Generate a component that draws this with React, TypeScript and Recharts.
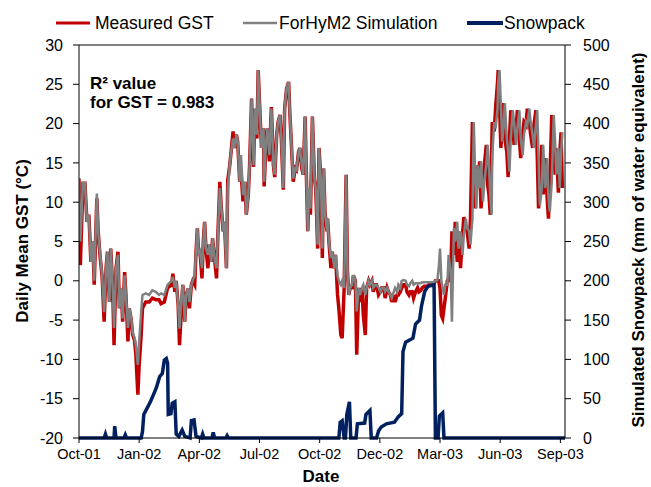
import { LineChart, Line, XAxis, YAxis, ReferenceLine } from "recharts";

// day index counted from 1 Oct 2001 (Excel date axis, 91-day major unit)
const gstDay = [
  0, 2, 6, 9, 12, 15, 18, 21, 23, 27, 29, 32, 35, 38, 41, 43, 46, 48, 51, 53, 56, 59, 61, 64, 66, 69, 71, 74, 76, 79,
  81, 84, 86, 89, 91, 94, 96, 101, 106, 111, 116, 121, 124, 129, 134, 140, 142, 145, 147, 150, 152, 155, 157, 160,
  162, 165, 167, 170, 172, 175, 177, 179, 181, 183, 186, 188, 190, 192, 195, 197, 200, 202, 205, 208, 210, 213, 215,
  218, 220, 223, 225, 228, 230, 233, 235, 238, 240, 243, 245, 248, 251, 253, 256, 258, 261, 264, 266, 269, 271, 274,
  276, 279, 280, 283, 285, 288, 290, 291, 294, 296, 299, 301, 304, 306, 309, 311, 314, 317, 319, 322, 324, 327, 329,
  332, 334, 337, 339, 342, 344, 346, 348, 350, 353, 356, 358, 361, 363, 366, 368, 370, 372, 375, 376, 378, 381, 383,
  386, 388, 391, 393, 396, 398, 401, 404, 406, 408, 410, 413, 415, 418, 420, 423, 425, 428, 430, 433, 435, 438, 440,
  443, 445, 448, 450, 453, 456, 458, 461, 463, 466, 468, 471, 473, 476, 478, 481, 483, 486, 488, 491, 494, 496, 499,
  501, 504, 506, 509, 512, 514, 517, 519, 522, 524, 527, 529, 532, 534, 537, 539, 542, 544, 546, 548, 550, 552, 554,
  557, 559, 562, 564, 567, 569, 572, 574, 577, 580, 582, 585, 587, 590, 592, 595, 597, 599, 601, 603, 606, 608, 611,
  613, 616, 618, 620, 622, 624, 625, 628, 630, 633, 634, 636, 638, 640, 642, 644, 647, 649, 651, 653, 656, 658, 661,
  663, 666, 668, 671, 673, 676, 678, 681, 683, 686, 688, 691, 693, 695, 697, 700, 702, 705, 708, 710, 712, 715, 718,
  720, 722, 725, 727, 729, 731,
];

const measuredGst = [
  13.0, 2.0, 12.4, 12.4, 7.5, 8.4, 2.4, 5.0, -0.5, 10.5, 6.3, 3.0, 0.5, -5.2, 1.6, 3.7, -2.7, 4.1, -1.0, -8.2, 1.6, 3.7,
  -3.5, -1.0, -5.2, 1.1, -1.8, -7.7, -3.5, -5.0, -6.8, -7.6, -9.4, -14.5, -10.7, -6.9, -3.5, -2.7, -2.7, -2.2, -2.4,
  -2.4, -2.9, -2.7, -0.9, -0.5, 0.9, -1.4, 0.0, -3.1, -8.2, -3.5, -0.5, -5.2, -1.8, -1.0, -3.5, -0.5, 0.0, -0.5, 3.7,
  6.7, 3.3, 3.7, 0.3, 5.0, 7.5, 4.1, 1.6, 4.6, 2.4, 5.4, 2.8, 0.3, 5.8, 12.6, 9.6, 6.3, 7.5, 1.6, 12.8, 14.7, 16.4,
  19.0, 16.9, 18.6, 17.7, 12.6, 14.0, 10.1, 12.6, 8.4, 10.9, 14.7, 23.2, 14.5, 21.9, 18.1, 26.8, 20.7, 16.9, 19.4,
  12.0, 17.7, 19.4, 15.2, 20.2, 22.1, 14.7, 13.2, 18.6, 20.2, 21.1, 18.1, 11.6, 21.9, 24.5, 25.3, 21.1, 16.0, 12.6,
  14.3, 14.1, 16.4, 16.9, 14.3, 13.5, 20.9, 13.0, 6.3, 11.8, 8.4, 20.9, 13.0, 11.8, 4.1, 16.9, 12.6, 2.9, 14.3, 8.8,
  6.3, 7.9, 5.0, 1.6, 3.7, 1.6, 3.3, -1.8, -3.5, -6.9, -7.3, -0.9, 13.5, 1.2, -1.8, -0.9, -0.9, 0.7, 0.0, -9.4, -0.9,
  -2.7, -0.9, -4.4, -6.9, -0.9, 0.0, -0.5, 0.0, -1.4, -0.5, -0.5, -1.8, -1.4, -0.9, -0.9, -2.2, -0.9, -1.4, -1.8,
  -2.7, -1.8, -2.7, -1.8, -1.8, -1.4, -0.9, -0.5, -0.5, -1.4, -1.8, -1.4, -1.4, -2.2, -1.4, -0.9, -1.4, -1.2, -0.9,
  -0.7, -0.7, -0.7, -0.5, -0.5, -0.4, -0.3, 0.0, 0.0, 0.0, -0.9, -4.4, -4.8, -3.5, -2.2, 0.0, 0.3, 0.0, 6.3, 3.3, 7.5,
  2.4, 6.3, 1.6, 5.8, 8.1, 6.7, 6.3, 4.1, 7.9, 20.2, 13.9, 9.2, 14.7, 11.8, 15.2, 9.2, 12.6, 14.7, 17.3, 12.2, 10.9,
  8.4, 16.0, 20.2, 19.0, 21.9, 25.3, 26.8, 22.4, 16.9, 19.4, 22.6, 18.1, 16.4, 13.2, 18.1, 21.7, 20.2, 17.3, 19.4,
  21.7, 18.1, 15.6, 18.6, 20.2, 19.8, 21.9, 20.2, 18.6, 16.9, 19.8, 21.7, 16.0, 9.2, 11.8, 17.3, 11.0, 15.6, 10.5,
  7.9, 12.6, 21.1, 17.7, 13.5, 16.9, 11.2, 16.0, 18.9, 11.8,
];

const simulatedGst = [
  13.0, 5.0, 12.4, 12.4, 7.5, 8.4, 2.4, 5.0, 0.0, 11.1, 6.3, 3.3, 0.7, -4.0, 1.6, 3.7, -2.7, 4.1, -1.0, -6.0, 1.6, 3.3,
  -3.5, -1.0, -4.8, 0.7, -1.8, -6.0, -3.5, -4.8, -6.5, -7.3, -8.2, -10.7, -7.7, -4.0, -1.8, -1.6, -1.8, -1.2, -1.4,
  -1.8, -1.6, -1.8, -0.5, 0.0, 0.5, -0.9, 0.0, -3.1, -6.1, -1.8, -0.5, -5.2, -1.8, -1.0, -2.7, -0.5, 0.0, 0.7, 3.7,
  6.7, 3.3, 3.7, 1.6, 5.0, 7.5, 4.1, 3.3, 4.6, 2.4, 5.4, 2.8, 1.6, 5.8, 11.8, 9.6, 6.3, 7.5, 1.6, 11.8, 14.7, 16.4,
  18.1, 16.9, 18.6, 17.7, 12.6, 16.0, 10.9, 12.6, 8.4, 10.9, 14.7, 23.2, 14.7, 21.9, 18.6, 26.8, 20.7, 16.9, 19.4,
  12.6, 17.7, 19.4, 16.0, 20.2, 21.9, 14.7, 13.5, 18.6, 20.2, 21.1, 18.1, 11.8, 21.9, 24.5, 25.3, 21.1, 16.0, 13.0,
  14.3, 14.1, 16.4, 16.9, 14.7, 13.5, 20.9, 13.0, 6.3, 11.8, 9.2, 20.9, 13.0, 11.8, 4.6, 16.9, 12.6, 4.1, 14.3, 8.8,
  6.3, 7.9, 5.0, 2.9, 3.7, 1.6, 3.3, 0.7, 0.0, -0.5, 0.0, -0.9, 13.5, 1.2, -1.8, -0.9, -0.5, 0.7, 0.0, -3.9, -0.9,
  -1.8, -0.9, -0.5, -1.8, -0.9, 0.0, -0.5, 0.0, -0.9, -0.5, -0.5, -0.9, -1.4, -0.9, -0.9, -1.4, -0.9, -1.4, -1.8,
  -2.2, -1.4, -0.9, -1.4, -0.5, -0.9, 0.0, 0.1, 0.0, -0.5, -0.7, -0.3, 0.0, -0.5, -0.3, -0.3, -0.3, -0.3, -0.2, -0.2,
  -0.2, -0.2, -0.2, -0.2, -0.2, -0.2, 0.0, 0.1, 1.6, 4.1, 0.0, -0.9, -1.8, -0.5, -0.5, 3.3, 1.2, -5.2, 6.7, 5.0, 7.5,
  4.1, 6.3, 3.3, 5.8, 7.9, 6.7, 6.3, 4.6, 7.9, 20.2, 13.9, 9.2, 14.7, 11.8, 15.2, 10.1, 12.6, 14.7, 17.3, 14.7, 10.9,
  8.4, 16.0, 20.2, 19.4, 21.9, 25.3, 26.8, 22.4, 17.7, 19.4, 22.6, 18.1, 16.4, 13.9, 18.1, 21.7, 20.2, 17.3, 19.4,
  21.7, 18.1, 16.0, 18.6, 20.2, 19.8, 21.9, 20.2, 18.6, 16.9, 19.8, 21.7, 16.0, 9.6, 11.8, 17.3, 11.8, 15.6, 10.5,
  8.8, 12.6, 21.1, 17.7, 13.5, 16.9, 11.8, 16.0, 18.9, 11.8,
];

const snowDay = [
  0, 38, 40, 42, 53, 54, 56, 68, 70, 72, 94, 96, 98, 103, 108, 112, 117, 122, 126, 129, 132, 134, 135, 139, 141, 145,
  147, 151, 156, 160, 168, 170, 174, 177, 185, 187, 189, 201, 203, 205, 222, 224, 226, 393, 395, 398, 401, 403, 405,
  409, 411, 419, 421, 432, 434, 440, 442, 450, 453, 457, 465, 477, 483, 488, 490, 494, 505, 509, 515, 518, 523, 528,
  537, 539, 543, 545, 550, 552, 735,
];

const snowpack = [
  0, 0, 5, 0, 0, 15, 0, 0, 4, 0, 0, 8, 30, 38, 46, 54, 64, 78, 82, 99, 101, 95, 30, 31, 44, 46, 5, 2, 10, 2, 0, 22, 23,
  2, 0, 5, 0, 0, 7, 0, 0, 3, 0, 0, 20, 22, 0, 0, 30, 46, 0, 0, 18, 19, 30, 35, 0, 0, 9, 14, 18, 20, 27, 31, 110, 122,
  127, 145, 150, 168, 187, 193, 195, 0, 0, 28, 32, 0, 0,
];

const dateTicks = [0, 91, 182, 273, 364, 455, 546, 637, 728];
const dateLabels = ["Oct-01", "Jan-02", "Apr-02", "Jul-02", "Oct-02", "Dec-02", "Mar-03", "Jun-03", "Sep-03"];
const gstTicks = [-20, -15, -10, -5, 0, 5, 10, 15, 20, 25, 30];
const snowTicks = [0, 50, 100, 150, 200, 250, 300, 350, 400, 450, 500];

const measuredData = gstDay.map((day, i) => ({ day, value: measuredGst[i] }));
const simulatedData = gstDay.map((day, i) => ({ day, value: simulatedGst[i] }));
const snowData = snowDay.map((day, i) => ({ day, value: snowpack[i] }));

const FONT = "'Liberation Sans', Arial, sans-serif";
const RED = "#C00000";
const GREY = "#808080";
const NAVY = "#002060";

export default function App() {
  return (
    <div style={{ position: "relative", width: 651, height: 487, fontFamily: FONT }}>
      <style>{"body{margin:0}"}</style>
      <LineChart width={651} height={487} margin={{ top: 45, right: 0, bottom: 0, left: 0 }}>
        <XAxis
          type="number"
          dataKey="day"
          domain={[0, 735]}
          ticks={dateTicks}
          tickFormatter={(v) => dateLabels[dateTicks.indexOf(v)]}
          allowDataOverflow
          height={49}
          tickSize={5}
          tickMargin={6}
          tick={{ fontSize: 14.5, fill: "#000", fontFamily: FONT }}
          stroke="#000"
        />
        <YAxis
          yAxisId="gst"
          domain={[-20, 30]}
          ticks={gstTicks}
          width={79}
          tickSize={6}
          tickMargin={10}
          tick={{ fontSize: 16, fill: "#000", fontFamily: FONT }}
          stroke="#000"
        />
        <YAxis
          yAxisId="snow"
          orientation="right"
          domain={[0, 500]}
          ticks={snowTicks}
          width={86}
          tickSize={6}
          tickMargin={12}
          tick={{ fontSize: 16, fill: "#000", fontFamily: FONT, textAnchor: "start" }}
          stroke="#000"
        />
        <ReferenceLine yAxisId="gst" y={30} stroke="#000" />
        <Line
          yAxisId="gst"
          data={measuredData}
          dataKey="value"
          type="linear"
          stroke={RED}
          strokeWidth={3.5}
          dot={false}
          isAnimationActive={false}
        />
        <Line
          yAxisId="gst"
          data={simulatedData}
          dataKey="value"
          type="linear"
          stroke={GREY}
          strokeWidth={2.5}
          dot={false}
          isAnimationActive={false}
        />
        <Line
          yAxisId="snow"
          data={snowData}
          dataKey="value"
          type="linear"
          stroke={NAVY}
          strokeWidth={3.5}
          dot={false}
          isAnimationActive={false}
        />
      </LineChart>
      <svg
        width={651}
        height={487}
        style={{ position: "absolute", left: 0, top: 0, pointerEvents: "none" }}
        fontFamily={FONT}
      >
        {/* legend */}
        <line x1={56} x2={90} y1={23} y2={23} stroke={RED} strokeWidth={3} />
        <text x={95} y={23} fontSize={17.5} dominantBaseline="central">Measured GST</text>
        <line x1={243} x2={277} y1={23} y2={23} stroke={GREY} strokeWidth={2.5} />
        <text x={279} y={23} fontSize={17.5} dominantBaseline="central">ForHyM2 Simulation</text>
        <line x1={467} x2={503} y1={23} y2={23} stroke={NAVY} strokeWidth={4} />
        <text x={504} y={23} fontSize={17.5} dominantBaseline="central">Snowpack</text>

        <text x={90} y={83} fontSize={17} fontWeight="bold" dominantBaseline="central">R² value</text>
        <text x={90} y={102} fontSize={17} fontWeight="bold" dominantBaseline="central">for GST = 0.983</text>

        <text x={321} y={476} fontSize={17} fontWeight="bold" textAnchor="middle" dominantBaseline="central">Date</text>
        <text
          x={22}
          y={241}
          fontSize={17}
          fontWeight="bold"
          textAnchor="middle"
          dominantBaseline="central"
          transform="rotate(-90 22 241)"
        >
          Daily Mean GST (°C)
        </text>
        <text
          x={638}
          y={240}
          fontSize={17}
          fontWeight="bold"
          textAnchor="middle"
          dominantBaseline="central"
          transform="rotate(-90 638 240)"
        >
          Simulated Snowpack (mm of water equivalent)
        </text>
      </svg>
    </div>
  );
}
